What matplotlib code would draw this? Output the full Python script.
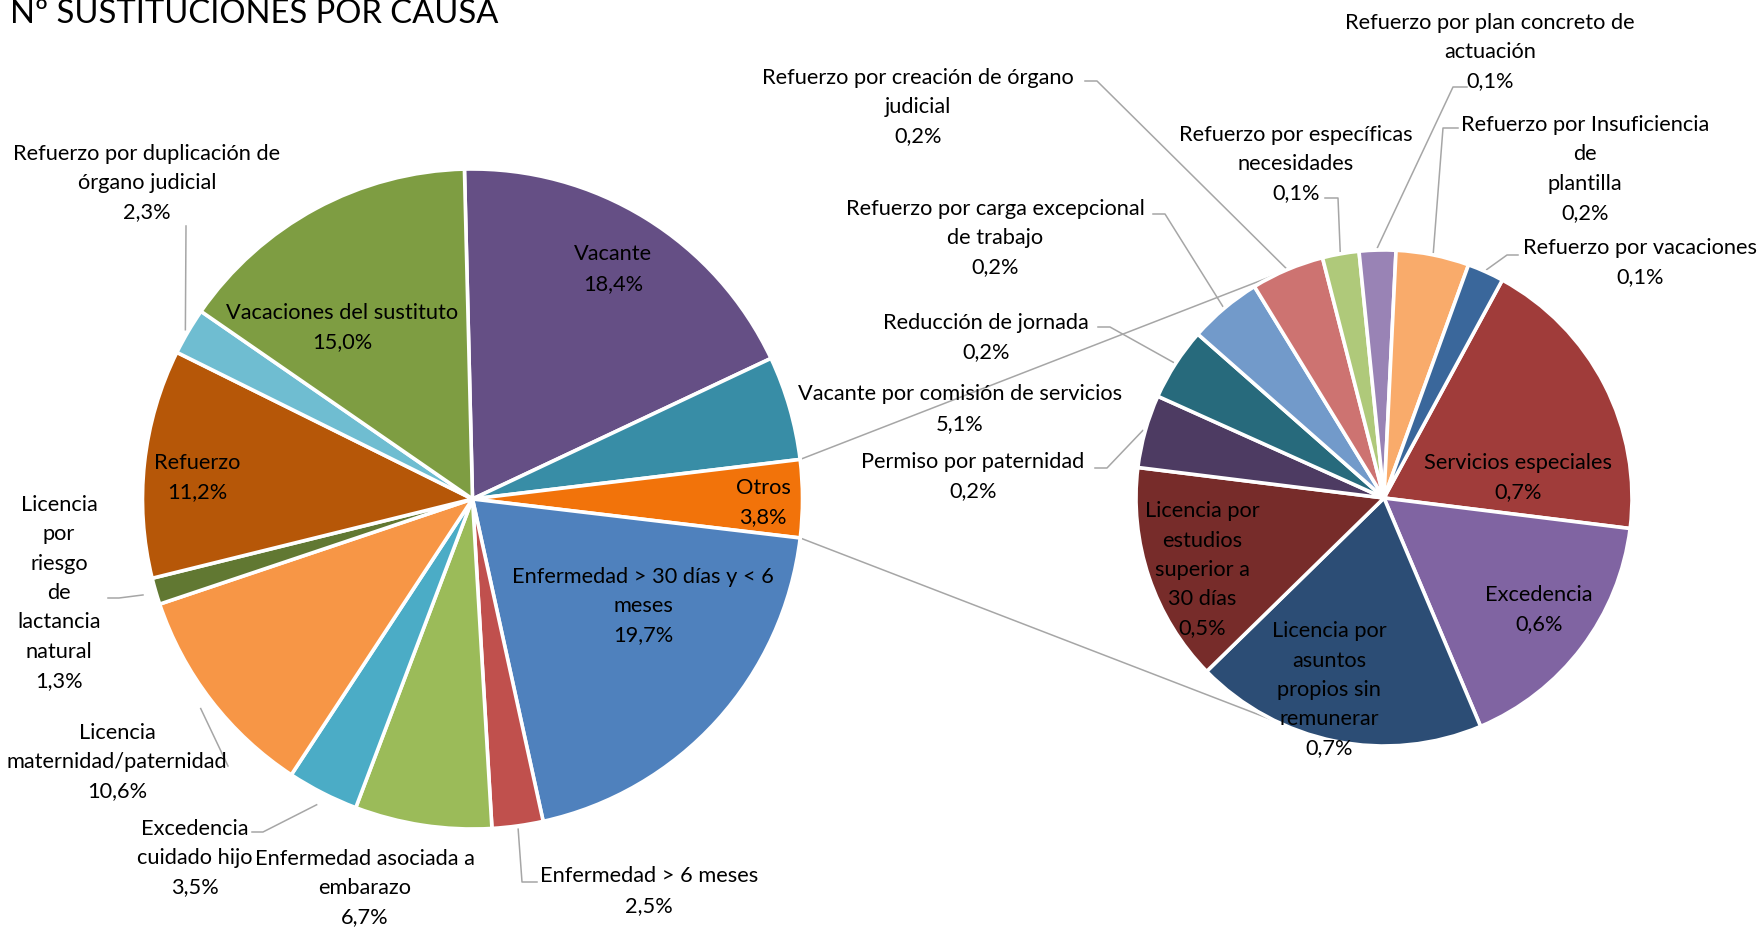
import numpy as np
import matplotlib
matplotlib.use("Agg")
import matplotlib.pyplot as plt

plt.rcParams['font.family'] = ['Lato', 'DejaVu Sans']

# ---------------- data ----------------
main_labels = [
    "Vacante", "Vacante por comisión de servicios", "Otros",
    "Enfermedad > 30 días y < 6 meses", "Enfermedad > 6 meses",
    "Enfermedad asociada a embarazo", "Excedencia cuidado hijo",
    "Licencia maternidad/paternidad", "Licencia por riesgo de lactancia natural",
    "Refuerzo", "Refuerzo por duplicación de órgano judicial",
    "Vacaciones del sustituto",
]
main_values = [18.4, 5.1, 3.8, 19.7, 2.5, 6.7, 3.5, 10.6, 1.3, 11.2, 2.3, 15.0]
main_colors = ["#654F85", "#388DA6", "#F2730A", "#4F81BD", "#C0504D", "#9BBB59",
               "#4BACC6", "#F79646", "#617832", "#B65708", "#6FBDD1", "#7E9D42"]

otros_labels = [
    "Servicios especiales", "Excedencia", "Licencia por asuntos propios sin remunerar",
    "Licencia por estudios superior a 30 días", "Permiso por paternidad",
    "Reducción de jornada", "Refuerzo por carga excepcional de trabajo",
    "Refuerzo por creación de órgano judicial", "Refuerzo por específicas necesidades",
    "Refuerzo por plan concreto de actuación", "Refuerzo por Insuficiencia de plantilla",
    "Refuerzo por vacaciones",
]
otros_values = [0.72, 0.63, 0.72, 0.54, 0.18, 0.18, 0.18, 0.18, 0.09, 0.09, 0.18, 0.09]
otros_colors = ["#A03C3A", "#8064A2", "#2C4D75", "#772C2A", "#4D3B62", "#276A7C",
                "#729ACA", "#CD7371", "#AFC97A", "#9983B5", "#F9AB6B", "#3A679B"]

title = "Nº SUSTITUCIONES POR CAUSA"

# ---------------- layout ----------------
W, H = 1762, 928
main_center = (472.5, 500)   # image px
main_radius = 330
sec_center = (1384, 499)
sec_radius = 248
main_start = 91.4
sec_start = 61.5

# display text (wrapping) and label block centres, image px
main_disp = [
    "Vacante", "Vacante por comisión de servicios", "Otros",
    "Enfermedad > 30 días y < 6\nmeses", "Enfermedad > 6 meses",
    "Enfermedad asociada a\nembarazo", "Excedencia\ncuidado hijo",
    "Licencia\nmaternidad/paternidad", "Licencia\npor\nriesgo\nde\nlactancia\nnatural",
    "Refuerzo", "Refuerzo por duplicación de\nórgano judicial",
    "Vacaciones del sustituto",
]
main_pos = [(613, 269), (960, 409), (763, 502.5), (643, 606), (649, 891),
            (365, 888), (195, 858), (117, 762), (59, 593), (197, 477.5),
            (147, 183), (342, 327.5)]
# leader: (radius factor, list of further points)
main_leader = {
    4: (1.01, [(522, 883), (537, 883)]),
    6: (1.04, [(263, 833), (252, 833)]),
    7: (1.04, [(228, 767)]),
    8: (1.04, [(119, 599), (108, 599)]),
    10: (1.01, [(186, 227)]),
}

otros_disp = [
    "Servicios especiales", "Excedencia", "Licencia por\nasuntos\npropios sin\nremunerar",
    "Licencia por\nestudios\nsuperior a\n30 días", "Permiso por paternidad",
    "Reducción de jornada", "Refuerzo por carga excepcional\nde trabajo",
    "Refuerzo por creación de órgano\njudicial", "Refuerzo por específicas\nnecesidades",
    "Refuerzo por plan concreto de\nactuación", "Refuerzo por Insuficiencia\nde\nplantilla",
    "Refuerzo por vacaciones",
]
otros_pos = [(1518, 477.5), (1539, 609.5), (1329, 690), (1202, 570), (973, 476.5),
             (986, 337.5), (995, 238), (918, 107), (1296, 164), (1490, 52),
             (1585, 169), (1640, 262.5)]
otros_leader = {
    4: (1.01, [(1107, 469), (1095, 469)]),
    5: (1.01, [(1110, 328), (1098, 328)]),
    6: (1.01, [(1165, 215), (1153, 215)]),
    7: (1.0, [(1097, 82), (1085, 82)]),
    8: (1.01, [(1338, 199), (1325, 199)]),
    9: (1.01, [(1453, 88), (1467, 88)]),
    10: (1.01, [(1443, 129), (1458, 129)]),
    11: (1.01, [(1507, 256), (1518, 256)]),
}

FS = 15.7
LS = 1.58
LEADER = "#A6A6A6"


def Y(y):
    return H - y


def fmt(v):
    return f"{v:.1f}".replace(".", ",") + "%"


fig = plt.figure(figsize=(W / 100, H / 100), dpi=100)
ax = fig.add_axes([0, 0, 1, 1])

wp = dict(edgecolor="white", linewidth=2.6)
wedges1, _ = ax.pie(main_values, colors=main_colors, startangle=main_start,
                    counterclock=False, center=(main_center[0], Y(main_center[1])),
                    radius=main_radius, wedgeprops=wp, frame=True)
wedges2, _ = ax.pie(otros_values, colors=otros_colors, startangle=sec_start,
                    counterclock=False, center=(sec_center[0], Y(sec_center[1])),
                    radius=sec_radius, wedgeprops=wp, frame=True)
for w in list(wedges1) + list(wedges2):
    w.set_zorder(3)


def rim(center, radius, ang, f=1.0):
    a = np.deg2rad(ang)
    return (center[0] + radius * f * np.cos(a), Y(center[1]) + radius * f * np.sin(a))


# connector lines between "Otros" and secondary pie
w_otros = wedges1[2]
for ang_o, ang_s in ((w_otros.theta2, 115.5), (w_otros.theta1, -115.5)):
    p0 = rim(main_center, main_radius, ang_o, 1.0)
    p1 = rim(sec_center, sec_radius, ang_s, 1.0)
    ax.plot([p0[0], p1[0]], [p0[1], p1[1]], color=LEADER, lw=1.1, zorder=1,
            solid_capstyle="butt")


def draw_labels(wedges, values, disp, pos, leaders, center, radius):
    for i, w in enumerate(wedges):
        txt = disp[i] + "\n" + fmt(values[i])
        ax.text(pos[i][0], Y(pos[i][1]), txt, ha="center", va="center",
                fontsize=FS, linespacing=LS, color="black", zorder=5,
                multialignment="center")
        if i in leaders:
            f, pts = leaders[i]
            mid = (w.theta1 + w.theta2) / 2
            p0 = rim(center, radius, mid, f)
            xs = [p0[0]] + [p[0] for p in pts]
            ys = [p0[1]] + [Y(p[1]) for p in pts]
            ax.plot(xs, ys, color=LEADER, lw=1.1, zorder=2)


draw_labels(wedges1, main_values, main_disp, main_pos, main_leader, main_center, main_radius)
draw_labels(wedges2, otros_values, otros_disp, otros_pos, otros_leader, sec_center, sec_radius)

ax.text(10, Y(23), title, ha="left", va="baseline", fontsize=23.6, color="black")

ax.set_xlim(0, W)
ax.set_ylim(0, H)
ax.set_aspect("equal", adjustable="box")
ax.set_axis_off()

fig.savefig("out.png", dpi=100, facecolor="white")
